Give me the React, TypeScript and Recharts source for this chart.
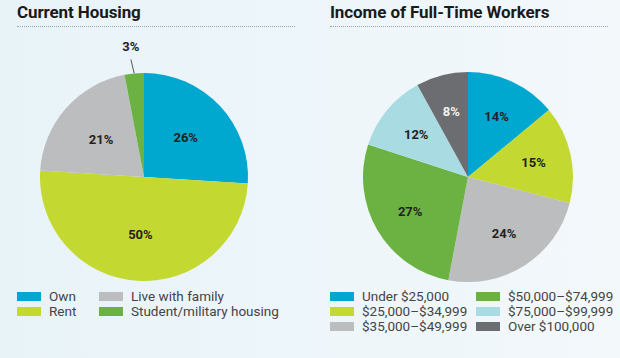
import { PieChart, Pie, Cell } from 'recharts';

// Current Housing
const housingLabels = ['Own', 'Rent', 'Live with family', 'Student/military housing'];
const housingValues = [26, 50, 21, 3];
const housingColors = ['#00a7cf', '#c4d832', '#bcbdbf', '#6cb243'];

// Income of Full-Time Workers
const incomeLabels = [
  'Under $25,000',
  '$25,000–$34,999',
  '$35,000–$49,999',
  '$50,000–$74,999',
  '$75,000–$99,999',
  'Over $100,000',
];
const incomeValues = [14, 15, 24, 27, 12, 8];
const incomeColors = ['#00a7cf', '#c4d832', '#bcbdbf', '#6cb243', '#a9dbe2', '#6c6d70'];

const FONT = 'Roboto, "Noto Sans", sans-serif';
const RAD = Math.PI / 180;
const NO_MARGIN = { top: 0, right: 0, bottom: 0, left: 0 };

function makeLabel(factor: number, lightIdx: number) {
  return (p: any) => {
    const { cx, cy, midAngle, outerRadius, value, index } = p;
    const cos = Math.cos(-midAngle * RAD);
    const sin = Math.sin(-midAngle * RAD);
    if (value < 5) {
      // small slice: leader line above the pie
      const x1 = cx + outerRadius * cos;
      const y1 = cy + outerRadius * sin;
      const x2 = cx + (outerRadius + 14) * cos - 2;
      const y2 = cy + (outerRadius + 14) * sin;
      return (
        <g>
          <line x1={x1} y1={y1} x2={x2} y2={y2} stroke="#555" strokeWidth={1} />
          <text x={x2} y={y2 - 9} textAnchor="middle" fontFamily={FONT} fontWeight={700} fontSize={13} fill="#222">
            {value}%
          </text>
        </g>
      );
    }
    const r = outerRadius * factor;
    return (
      <text
        x={cx + r * cos}
        y={cy + r * sin}
        textAnchor="middle"
        dominantBaseline="central"
        fontFamily={FONT}
        fontWeight={700}
        fontSize={13}
        fill={index === lightIdx ? '#f0f0f0' : '#222'}
      >
        {value}%
      </text>
    );
  };
}

function Title({ text, x }: { text: string; x: number }) {
  return (
    <div style={{ position: 'absolute', left: x, top: 2, width: 278 }}>
      <div style={{ fontFamily: FONT, fontWeight: 700, fontSize: 17, color: '#1a1a1a', lineHeight: '20px', letterSpacing: -0.1 }}>
        {text}
      </div>
      <div style={{ borderTop: '1px dotted #9aa4a8', marginTop: 4 }} />
    </div>
  );
}

function Legend({ labels, colors, x, cols, colX }: { labels: string[]; colors: string[]; x: number; cols: number; colX: number }) {
  const rows = Math.ceil(labels.length / cols);
  return (
    <div style={{ position: 'absolute', left: x, top: 289 }}>
      {labels.map((l, i) => {
        const c = Math.floor(i / rows);
        const r = i % rows;
        return (
          <div key={l} style={{ position: 'absolute', left: c * colX, top: r * 15, display: 'flex', alignItems: 'center', whiteSpace: 'nowrap' }}>
            <div style={{ width: 24, height: 9, background: colors[i], marginRight: 8 }} />
            <span style={{ fontFamily: FONT, fontSize: 13.5, color: '#444', lineHeight: '15px' }}>{l}</span>
          </div>
        );
      })}
    </div>
  );
}

export default function App() {
  const housingData = housingLabels.map((name, i) => ({ name, value: housingValues[i] }));
  const incomeData = incomeLabels.map((name, i) => ({ name, value: incomeValues[i] }));
  return (
    <div
      style={{
        position: 'absolute',
        left: 0,
        top: 0,
        width: 620,
        height: 358,
        background: 'linear-gradient(90deg, #e8f3f8 0%, #eef6fa 60%, #f3f8fb 100%)',
        overflow: 'hidden',
      }}
    >
      <Title text="Current Housing" x={17} />
      <Title text="Income of Full-Time Workers" x={330} />

      <div style={{ position: 'absolute', left: 0, top: 0 }}>
        <PieChart width={290} height={290} margin={NO_MARGIN}>
          <Pie
            data={housingData}
            dataKey="value"
            cx={144}
            cy={177}
            outerRadius={104}
            startAngle={90}
            endAngle={-270}
            stroke="none"
            labelLine={false}
            label={makeLabel(0.55, -1)}
            isAnimationActive={false}
          >
            {housingData.map((d, i) => (
              <Cell key={d.name} fill={housingColors[i]} />
            ))}
          </Pie>
        </PieChart>
      </div>

      <div style={{ position: 'absolute', left: 320, top: 0 }}>
        <PieChart width={290} height={290} margin={NO_MARGIN}>
          <Pie
            data={incomeData}
            dataKey="value"
            cx={148}
            cy={177}
            outerRadius={105}
            startAngle={90}
            endAngle={-270}
            stroke="none"
            labelLine={false}
            label={makeLabel(0.64, 5)}
            isAnimationActive={false}
          >
            {incomeData.map((d, i) => (
              <Cell key={d.name} fill={incomeColors[i]} />
            ))}
          </Pie>
        </PieChart>
      </div>

      <Legend labels={housingLabels} colors={housingColors} x={17} cols={2} colX={82} />
      <Legend labels={incomeLabels} colors={incomeColors} x={330} cols={2} colX={146} />
    </div>
  );
}
